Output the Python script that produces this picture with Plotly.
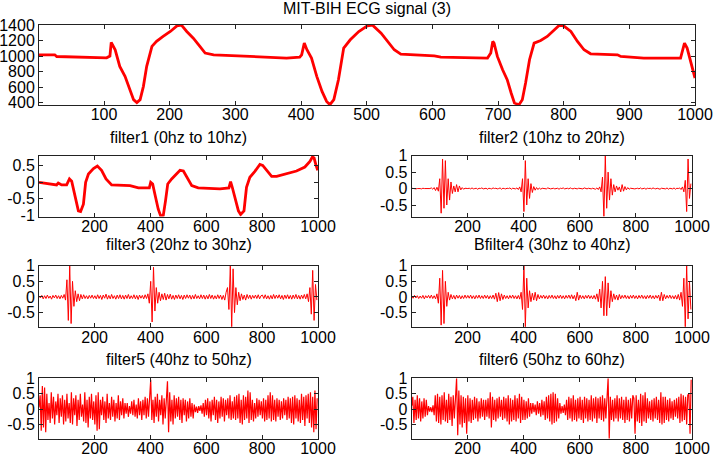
import plotly.graph_objects as go

W, H = 714, 458

# ---------------- data ----------------
ecg_x = [1,25,28,68,104,109,111,117,124,132,140,145,150,155,160,165,173,180,190,201,
         211,218,226,236,246,254,267,297,307,348,378,398,401,405,409,416,424,432,439,444,
         450,457,465,475,488,501,509,522,532,542,552,603,613,684,689,692,694,699,707,714,
         720,725,732,737,742,748,755,765,775,785,793,800,811,821,831,841,882,887,922,978,
         980,984,988,993,998,1000]
ecg_y = [1017,1017,995,987,978,1000,1176,1082,867,738,566,437,400,437,609,867,1125,1190,1254,1318,
         1391,1400,1318,1232,1125,1039,1017,1004,995,987,974,987,1017,1168,1082,974,738,544,415,372,
         437,695,1103,1211,1318,1391,1400,1297,1190,1082,1026,1004,987,974,1039,1190,1168,996,824,695,
         523,394,372,437,652,953,1168,1202,1254,1340,1396,1391,1318,1190,1082,1030,1017,995,974,974,
         1039,1168,1103,953,781,716]

f1_x = [1,28,52,64,70,82,100,110,118,130,142,150,160,168,178,196,210,225,241,261,
        291,327,357,396,401,408,416,428,437,446,454,462,476,494,506,518,530,548,571,649,
        681,687,693,703,715,723,735,744,756,774,792,802,816,834,852,888,923,953,971,980,
        986,993,999]
f1_y = [0.0,-0.03,-0.05,-0.08,-0.02,-0.08,-0.08,0.10,0.03,-0.46,-0.86,-0.88,-0.66,0.0,0.25,0.41,0.49,0.36,0.10,-0.08,
        -0.08,-0.10,-0.17,-0.17,0.0,-0.05,-0.36,-0.81,-1.02,-1.0,-0.56,-0.05,0.10,0.27,0.36,0.34,0.15,-0.10,-0.17,-0.20,
        -0.17,0.02,-0.15,-0.46,-0.86,-0.97,-0.86,-0.15,0.15,0.33,0.54,0.51,0.36,0.18,0.18,0.25,0.34,0.46,0.63,0.76,
        0.73,0.51,0.36]

# sample index of the band-filtered outputs (one value every 5 samples)
band_x = list(range(1, 1001, 5))
# sample index of the two broadband outputs (one value every 4 samples)
dense_x = list(range(1, 1001, 4))

f2_y = [0.01,0,0.01,-0.01,0,0.01,0,-0.01,0.01,0,0,0.01,-0.01,0,0.02,-0.02,0.03,-0.06,0.04,-0.08,
        0.3,-0.75,0.9,-0.6,0.85,-0.5,0.3,-0.35,0.2,-0.15,0.08,-0.1,0.12,-0.1,0.08,-0.04,0.03,-0.02,0.01,0,
        0,0.01,-0.01,0.02,-0.01,0,0.01,-0.02,0.01,0,0.02,-0.01,0,0.01,-0.02,0.01,0,-0.01,0.02,0,
        0.01,-0.01,0,0.02,-0.02,0.01,0,-0.01,0.01,0,0.02,-0.02,0.01,0,-0.01,0.02,-0.03,0.05,-0.1,0.3,
        -0.7,0.85,-0.5,0.3,-0.3,0.15,-0.12,0.06,-0.05,0.03,-0.03,0.02,-0.02,0.01,0,0.01,-0.01,0.02,0,-0.01,
        0,0.01,-0.01,0,0.01,-0.02,0.01,0,0.02,-0.01,0,0.01,-0.01,0.02,0,-0.01,0.01,0,-0.01,0.01,
        0,0.01,-0.01,0.02,0,-0.01,0.01,0,-0.01,0.01,0,-0.02,0.02,-0.03,0.05,-0.1,0.35,-0.85,1.0,-0.6,
        0.5,-0.35,0.3,-0.2,0.12,-0.1,0.08,-0.05,0.05,-0.1,0.12,-0.08,0.06,-0.04,0.03,-0.02,0.01,0,0.01,-0.01,
        0,0.01,-0.01,0.02,-0.01,0,0.01,-0.02,0.01,0,0.01,-0.01,0.02,0,-0.01,0.01,0,-0.02,0.01,0,
        0.01,-0.01,0.02,-0.02,0.01,0,-0.01,0.02,-0.02,0.01,0,0.02,-0.03,0.05,-0.1,0.25,-0.7,0.9,-0.3,0.15]

f3_y = [0.02,-0.03,0.05,-0.06,0.04,-0.05,0.06,-0.04,0.03,-0.07,0.05,-0.03,0.06,-0.05,0.04,-0.06,0.05,-0.04,0.08,-0.1,
        0.55,-0.75,1.0,-0.85,0.5,-0.3,0.2,-0.15,0.1,-0.12,0.08,-0.06,0.07,-0.05,0.04,-0.06,0.05,-0.04,0.06,-0.05,
        0.04,-0.06,0.07,-0.05,0.05,-0.08,0.06,-0.04,0.09,-0.07,0.05,-0.06,0.08,-0.05,0.04,-0.07,0.06,-0.05,0.07,-0.06,
        0.05,-0.07,0.06,-0.05,0.08,-0.06,0.04,-0.05,0.07,-0.06,0.05,-0.08,0.06,-0.04,0.05,-0.06,0.07,-0.05,0.1,-0.2,
        0.5,-0.8,0.95,-0.45,0.3,-0.2,0.15,-0.12,0.1,-0.08,0.12,-0.1,0.08,-0.06,0.09,-0.07,0.05,-0.08,0.06,-0.05,
        0.07,-0.06,0.05,-0.08,0.06,-0.05,0.07,-0.04,0.06,-0.07,0.05,-0.06,0.08,-0.05,0.04,-0.06,0.07,-0.05,0.06,-0.07,
        0.05,-0.06,0.08,-0.05,0.06,-0.07,0.04,-0.06,0.07,-0.05,0.06,-0.08,0.05,-0.1,0.15,0.3,-0.4,1.0,-0.95,0.9,
        -0.5,0.3,-0.25,0.15,-0.12,0.1,-0.08,0.06,-0.1,0.08,-0.05,0.06,-0.07,0.05,-0.04,0.06,-0.05,0.07,-0.06,0.04,
        0.06,-0.05,0.07,-0.06,0.04,-0.07,0.05,-0.06,0.08,-0.05,0.06,-0.04,0.07,-0.06,0.05,-0.08,0.06,-0.05,0.07,-0.06,
        0.05,-0.07,0.06,-0.05,0.08,-0.06,0.05,-0.07,0.06,-0.05,0.08,-0.06,0.1,-0.15,0.3,-0.55,0.85,-0.75,0.4,-0.1]

f4_y = [0.03,-0.04,0.05,-0.03,0.04,-0.05,0.03,-0.04,0.05,-0.06,0.04,-0.03,0.05,-0.04,0.06,-0.05,0.04,-0.06,0.1,-0.2,
        0.6,-0.9,0.85,-0.85,0.5,-0.3,0.15,-0.1,0.08,-0.06,0.05,-0.07,0.06,-0.04,0.05,-0.06,0.04,-0.05,0.06,-0.04,
        0.05,-0.04,0.06,-0.05,0.04,-0.06,0.05,-0.04,0.06,-0.05,0.04,-0.05,0.06,-0.04,0.05,-0.06,0.04,-0.05,0.06,-0.07,
        0.12,-0.15,0.14,-0.12,0.1,-0.08,0.06,-0.05,0.04,-0.06,0.05,-0.04,0.06,-0.05,0.04,-0.06,0.05,-0.07,0.15,-0.4,
        1.0,-0.95,0.6,-0.35,0.2,-0.15,0.12,-0.1,0.15,-0.12,0.08,-0.06,0.05,-0.04,0.06,-0.05,0.04,-0.06,0.05,-0.04,
        0.06,-0.05,0.04,-0.06,0.05,-0.04,0.06,-0.05,0.04,-0.06,0.05,-0.04,0.06,-0.05,0.07,-0.06,0.05,-0.12,0.15,-0.1,
        0.06,-0.05,0.04,-0.06,0.05,-0.04,0.06,-0.05,0.04,-0.06,0.05,-0.07,0.1,-0.15,0.25,-0.35,0.5,-0.6,0.65,-0.6,
        0.45,-0.35,0.2,-0.15,0.1,-0.08,0.06,-0.1,0.08,-0.06,0.05,-0.04,0.06,-0.05,0.04,-0.06,0.05,-0.04,0.06,-0.05,
        0.04,-0.06,0.05,-0.04,0.06,-0.05,0.04,-0.06,0.05,-0.04,0.06,-0.05,0.04,-0.06,0.05,-0.04,0.06,-0.12,0.15,-0.12,
        0.08,-0.06,0.05,-0.04,0.06,-0.05,0.04,-0.06,0.05,-0.07,0.08,-0.1,0.15,-0.3,0.6,-0.95,1.0,-0.7,0.5,-0.4]

f5_y = [0.05,0.45,-0.7,0.75,-0.6,0.7,-0.75,0.5,-0.35,0.2,-0.45,0.55,-0.3,0.4,-0.5,0.25,-0.2,0.5,-0.45,0.35,-0.25,0.45,-0.5,0.3,-0.4,
        0.5,-0.3,0.2,-0.45,0.55,-0.5,0.35,-0.2,0.45,-0.55,0.3,-0.35,0.5,-0.25,0.15,-0.4,0.55,-0.45,0.3,-0.6,0.4,-0.3,0.5,-0.35,0.25,
        -0.5,0.45,-0.7,0.55,-0.65,0.3,-0.2,0.4,-0.35,0.25,-0.45,0.5,-0.3,0.2,-0.35,0.4,-0.25,0.3,-0.4,0.2,-0.3,0.45,-0.35,0.25,-0.2,
        0.35,-0.3,0.2,-0.15,0.2,-0.25,0.1,-0.15,0.25,-0.2,0.3,-0.25,0.15,-0.3,0.35,-0.2,0.25,-0.35,0.3,-0.2,0.4,-0.3,0.35,-0.25,0.45,
        0.95,-0.35,0.3,-0.45,0.4,-0.25,0.5,-0.4,0.3,-0.2,0.45,-0.5,0.35,-0.3,0.25,0.9,-0.75,0.55,-0.4,0.3,-0.5,0.45,-0.3,0.35,-0.25,
        0.4,-0.35,0.3,-0.45,0.35,-0.2,0.3,-0.4,0.25,-0.3,0.35,-0.25,0.2,-0.3,0.15,-0.1,0.08,-0.12,0.1,-0.06,0.12,-0.15,0.2,-0.25,0.3,
        -0.2,0.35,-0.3,0.25,-0.4,0.3,-0.2,0.4,-0.35,0.3,-0.45,0.25,-0.3,0.4,-0.25,0.35,-0.4,0.3,-0.2,0.35,-0.3,0.45,-0.35,0.25,-0.3,
        0.4,-0.35,0.45,-0.3,0.5,-0.45,0.3,-0.5,0.45,-0.35,0.4,-0.3,0.6,-0.45,0.55,-0.35,0.3,-0.4,0.2,-0.3,0.35,-0.25,0.3,-0.2,0.25,
        -0.3,0.35,-0.4,0.3,-0.35,0.45,-0.3,0.55,-0.4,0.45,-0.35,0.3,-0.4,0.35,-0.25,0.3,-0.35,0.25,-0.3,0.35,-0.2,0.3,-0.35,0.4,-0.3,
        0.35,-0.45,0.4,-0.5,0.45,-0.3,0.35,-0.4,0.3,-0.45,0.5,-0.35,0.4,-0.55,0.45,-0.3,0.5,-0.45,0.55,-0.6,0.4,-0.75,0.6,-0.65,0.35]

f6_y = [0.1,0.4,-0.45,0.3,-0.35,0.45,-0.3,0.35,-0.4,0.25,-0.3,0.35,-0.25,0.3,-0.2,0.1,-0.08,0.06,-0.1,0.12,-0.2,0.45,-0.4,0.5,-0.45,
        0.4,-0.5,0.45,-0.35,0.55,-0.4,0.3,-0.45,0.5,-0.35,0.4,-0.55,0.45,-0.3,0.55,1.0,-0.85,0.6,-0.5,0.45,-0.6,0.4,-0.45,0.35,-0.8,
        0.45,-0.4,0.35,-0.45,0.3,-0.35,0.4,-0.3,0.35,-0.4,0.25,-0.3,0.35,-0.25,0.3,-0.35,0.3,-0.25,0.35,-0.3,0.55,-0.6,0.4,-0.35,0.3,
        -0.4,0.35,-0.3,0.4,-0.25,0.3,-0.35,0.4,-0.3,0.35,-0.4,0.45,-0.5,0.35,-0.4,0.3,-0.35,0.45,-0.4,0.35,-0.3,0.5,-0.45,0.4,-0.35,
        0.3,-0.35,0.25,-0.3,0.35,-0.25,0.2,-0.15,0.2,-0.1,0.15,-0.2,0.25,-0.15,0.2,-0.25,0.3,-0.2,0.25,-0.35,0.4,-0.3,0.45,-0.4,0.5,
        -0.5,0.55,-0.45,0.5,-0.4,0.35,-0.3,0.2,-0.15,0.1,-0.12,0.15,-0.2,0.3,-0.35,0.4,-0.3,0.35,-0.4,0.45,-0.35,0.3,-0.4,0.35,-0.3,
        0.4,-0.35,0.3,-0.45,0.4,-0.3,0.35,-0.4,0.3,-0.35,0.45,-0.4,0.35,-0.3,0.4,-0.45,0.35,-0.3,0.4,-0.35,0.45,-0.4,0.35,-0.3,0.4,
        1.0,-0.95,0.4,-0.35,0.3,-0.4,0.35,-0.3,0.45,-0.4,0.35,-0.3,0.4,-0.35,0.3,-0.45,0.4,-0.35,0.3,-0.4,0.35,-0.3,0.45,0.35,-0.8,
        0.45,-0.4,0.3,-0.45,0.5,-0.55,0.45,-0.4,0.55,-0.45,0.35,-0.3,0.25,-0.35,0.3,-0.4,0.35,-0.3,0.4,-0.35,0.3,-0.45,0.55,-0.5,0.4,
        -0.45,0.4,-0.35,0.3,-0.4,0.35,-0.3,0.25,-0.35,0.3,-0.25,0.35,-0.3,0.4,-0.45,0.5,-0.4,0.45,-0.35,0.4,-0.5,0.45,0.5,-0.8,0.95]

main_title = "MIT-BIH ECG signal (3)"
titles = ["filter1 (0hz to 10hz)", "filter2 (10hz to 20hz)",
          "filter3 (20hz to 30hz)", "Bfilter4 (30hz to 40hz)",
          "filter5 (40hz to 50hz)", "filter6 (50hz to 60hz)"]

top_xticks = [100, 200, 300, 400, 500, 600, 700, 800, 900, 1000]
top_yticks = [400, 600, 800, 1000, 1200, 1400]
sub_xticks = [200, 400, 600, 800, 1000]
sub_yticks = [-0.5, 0, 0.5, 1]

# ---------------- layout helpers ----------------
def px_x(v):
    return v / W

def px_y(v):
    return 1 - v / H

FONT = "Liberation Sans, Arial, sans-serif"
RED = "#ff0000"
AX = "#222222"

fig = go.Figure()

def axis_common():
    return dict(showline=True, linecolor=AX, linewidth=1, mirror="allticks",
                ticks="inside", ticklen=4, tickcolor=AX, showgrid=False,
                zeroline=False, automargin=False,
                tickfont=dict(family=FONT, size=16, color="#000"))

def fmt(v):
    return "%g" % v

panels = [
    # (x, y, line width, x domain px, y domain px, y range, y ticks, x ticks)
    (ecg_x, ecg_y, 2.8, (39, 695), (25, 105), [368, 1402], top_yticks, top_xticks),
    (f1_x, f1_y, 2.8, (39, 318), (155.7, 216.5), [-1.03, 0.8], [-1, -0.5, 0, 0.5], sub_xticks),
    (band_x, f2_y, 1.0, (411.7, 692), (155.7, 216.5), [-0.85, 1.0], sub_yticks, sub_xticks),
    (band_x, f3_y, 1.0, (39, 318), (265.7, 327.3), [-0.97, 1.0], sub_yticks, sub_xticks),
    (band_x, f4_y, 1.0, (411.7, 692), (265.7, 327.3), [-0.97, 1.0], sub_yticks, sub_xticks),
    (dense_x, f5_y, 1.2, (39, 318), (378.3, 439), [-0.97, 1.0], sub_yticks, sub_xticks),
    (dense_x, f6_y, 1.2, (411.7, 692), (378.3, 439), [-0.97, 1.0], sub_yticks, sub_xticks),
]

layout = dict(
    width=W, height=H, margin=dict(l=0, r=0, t=0, b=0, autoexpand=False),
    paper_bgcolor="white", plot_bgcolor="white", showlegend=False,
    font=dict(family=FONT, size=16, color="#000"),
)

for i, (xs, ys, lw, xd, yd, yr, yt, xt) in enumerate(panels):
    n = "" if i == 0 else str(i + 1)
    m = min(len(xs), len(ys))
    fig.add_trace(go.Scatter(x=xs[:m], y=ys[:m], mode="lines",
                             line=dict(color=RED, width=lw),
                             xaxis="x" + n, yaxis="y" + n, hoverinfo="skip"))
    xa = axis_common()
    xa.update(domain=[px_x(xd[0]), px_x(xd[1])], range=[1, 1000],
              anchor="y" + n, tickvals=xt, ticktext=[fmt(v) for v in xt],
              ticklabelstandoff=-5)
    ya = axis_common()
    ya.update(domain=[px_y(yd[1]), px_y(yd[0])], range=yr,
              anchor="x" + n, tickvals=yt, ticktext=[fmt(v) for v in yt])
    layout["xaxis" + n] = xa
    layout["yaxis" + n] = ya

ann = [dict(text=main_title, x=px_x(367), y=px_y(9), xref="paper", yref="paper",
            xanchor="center", yanchor="middle", showarrow=False,
            font=dict(family=FONT, size=16, color="#000"))]
title_pos = [(178.5, 137), (552, 137), (178.5, 244), (552, 244), (178.5, 359), (552, 359)]
for t, (cx, cy) in zip(titles, title_pos):
    ann.append(dict(text=t, x=px_x(cx), y=px_y(cy), xref="paper", yref="paper",
                    xanchor="center", yanchor="middle", showarrow=False,
                    font=dict(family=FONT, size=16, color="#000")))
layout["annotations"] = ann

fig.update_layout(**layout)
fig.write_html("out.html",
               config={"displayModeBar": False, "staticPlot": True},
               post_script="document.body.style.margin='0';document.body.style.overflow='hidden';")
